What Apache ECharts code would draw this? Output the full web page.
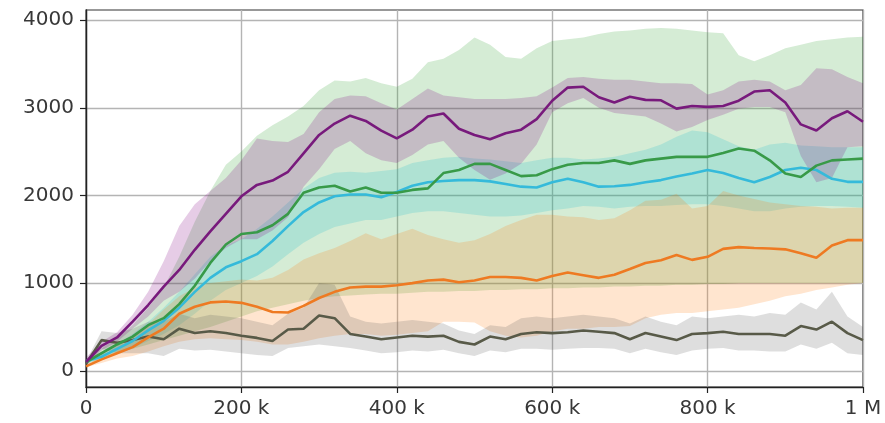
<!DOCTYPE html>
<html>
<head>
<meta charset="utf-8">
<script src="https://cdn.jsdelivr.net/npm/echarts@6/dist/echarts.min.js"></script>
<style>html,body{margin:0;padding:0;background:#fff}#c{width:885px;height:423px}</style>
</head>
<body>
<div id="c"></div>
<script>
// ---- data ----
var steps = [0,20000,40000,60000,80000,100000,120000,140000,160000,180000,200000,220000,240000,260000,280000,300000,320000,340000,360000,380000,400000,420000,440000,460000,480000,500000,520000,540000,560000,580000,600000,620000,640000,660000,680000,700000,720000,740000,760000,780000,800000,820000,840000,860000,880000,900000,920000,940000,960000,980000,1000000];

var purpleMean = [100,285,380,560,750,960,1150,1380,1590,1790,1990,2120,2170,2270,2480,2690,2820,2910,2850,2740,2650,2750,2900,2935,2760,2690,2640,2710,2750,2870,3080,3230,3240,3120,3060,3125,3090,3085,2990,3020,3010,3020,3080,3185,3200,3060,2810,2740,2880,2960,2840];
var purpleHigh = [150,330,440,640,900,1250,1650,1900,2050,2200,2400,2650,2620,2610,2700,2950,3100,3140,3130,3050,2980,3100,3220,3140,3120,3100,3100,3100,3110,3130,3230,3340,3350,3330,3320,3320,3300,3280,3280,3270,3150,3200,3300,3320,3300,3200,3260,3450,3440,3350,3280];
var purpleLow  = [60,230,330,480,620,800,900,1050,1250,1400,1500,1500,1600,1750,2100,2300,2530,2620,2480,2400,2370,2460,2580,2620,2430,2290,2180,2250,2360,2580,2950,3050,3110,3000,2940,2920,2900,2820,2730,2780,2860,2920,2990,3010,3010,2950,2450,2150,2200,2550,2560];

var greenMean = [100,200,300,390,520,600,760,970,1230,1440,1560,1580,1660,1790,2030,2090,2110,2045,2090,2030,2030,2063,2080,2255,2290,2360,2360,2290,2220,2230,2300,2350,2370,2370,2400,2360,2400,2420,2440,2440,2440,2485,2535,2510,2400,2250,2210,2340,2400,2410,2420];
var greenHigh = [130,250,380,520,720,950,1300,1700,2050,2350,2500,2680,2800,2900,3020,3200,3310,3300,3340,3280,3240,3330,3520,3560,3660,3800,3720,3580,3560,3680,3760,3780,3800,3840,3870,3880,3900,3910,3900,3880,3860,3850,3600,3530,3600,3680,3720,3760,3780,3800,3810];
var greenLow  = [70,140,200,250,300,350,400,450,500,560,620,680,720,760,800,830,850,860,870,880,880,890,900,900,910,910,920,920,930,930,940,940,950,950,960,960,970,970,980,980,990,990,1000,1000,1000,1000,1000,1000,1000,1000,1000];

var cyanMean = [110,160,250,340,460,570,720,900,1060,1180,1250,1330,1480,1650,1810,1920,1990,2010,2010,1980,2040,2110,2150,2165,2175,2175,2160,2130,2100,2090,2150,2190,2150,2100,2105,2120,2150,2175,2215,2250,2290,2255,2200,2150,2210,2290,2315,2290,2190,2155,2155];
var cyanHigh = [130,190,300,420,560,720,900,1100,1300,1430,1500,1620,1760,1920,2080,2200,2260,2270,2260,2280,2300,2370,2400,2430,2440,2420,2410,2390,2370,2400,2430,2430,2410,2420,2440,2480,2520,2580,2670,2740,2720,2640,2560,2520,2580,2600,2570,2560,2550,2550,2550];
var cyanLow  = [90,130,200,260,340,420,520,650,800,920,1000,1080,1190,1330,1460,1560,1640,1680,1720,1720,1760,1800,1820,1820,1800,1780,1760,1760,1770,1800,1830,1850,1880,1870,1850,1870,1880,1880,1890,1900,1900,1880,1850,1820,1820,1850,1870,1880,1880,1870,1860];

var orangeMean = [50,130,200,270,380,480,650,730,780,790,775,730,670,665,740,830,900,950,960,960,975,1000,1030,1040,1010,1030,1070,1070,1060,1030,1080,1120,1090,1060,1095,1160,1230,1260,1320,1265,1300,1390,1410,1400,1395,1385,1340,1290,1430,1490,1490];
var orangeHigh = [60,180,280,380,530,700,850,950,1000,1020,1040,1030,1060,1150,1270,1340,1400,1480,1570,1500,1560,1620,1550,1500,1460,1490,1560,1650,1720,1780,1780,1760,1750,1720,1740,1830,1940,1950,2020,1850,1880,2050,2000,1960,1920,1900,1880,1870,1850,1860,1860];
var orangeLow  = [40,90,140,170,220,280,330,360,370,360,350,330,300,300,330,370,400,420,420,400,410,430,450,560,560,550,450,400,380,400,450,480,480,500,500,510,600,640,660,660,680,700,720,760,800,850,880,920,950,980,1000];

var grayMean = [80,350,320,350,390,360,480,430,450,430,400,375,340,470,480,630,600,420,390,360,380,400,390,400,330,300,390,360,420,440,430,440,460,445,430,360,430,390,350,420,430,445,420,420,420,400,510,470,560,430,350];
var grayHigh = [110,450,430,480,560,560,650,600,640,620,600,560,520,650,720,1000,980,620,560,540,560,580,560,540,460,420,520,500,600,620,600,620,640,620,600,540,620,560,520,620,600,620,640,620,660,640,780,700,900,620,500];
var grayLow  = [50,250,200,200,200,170,250,230,240,220,200,180,170,260,280,300,280,260,230,200,210,230,220,240,200,170,230,210,250,250,240,250,260,260,250,200,250,210,180,230,250,260,230,230,220,220,300,250,320,200,180];

var xTickValues = [0,200000,400000,600000,800000,1000000];
var xTickLabels = ['0','200 k','400 k','600 k','800 k','1 M'];
var yTickValues = [0,1000,2000,3000,4000];
var yTickLabels = ['0','1000','2000','3000','4000'];

// ---- chart ----
function pairs(ys){ return steps.map(function(x,i){ return [x, ys[i]]; }); }
function band(name, lo, hi, color, z){
  return {
    type:'custom', name:name, silent:true, z:z, clip:true,
    data: steps.map(function(x,i){ return [x, lo[i], hi[i]]; }),
    encode:{x:0, y:[1,2]},
    renderItem:function(params, api){
      if (params.dataIndex !== 0) return;
      var pts = [];
      for (var i=0;i<steps.length;i++) pts.push(api.coord([steps[i], hi[i]]));
      for (var j=steps.length-1;j>=0;j--) pts.push(api.coord([steps[j], lo[j]]));
      return {type:'polygon', shape:{points:pts}, style:{fill:color}};
    }
  };
}
function line(name, ys, color, z){
  return {type:'line', name:name, data:pairs(ys), showSymbol:false, symbol:'none', z:z, silent:true,
    lineStyle:{color:color, width:2.6}};
}

var chart = echarts.init(document.getElementById('c'), null, {renderer:'canvas'});
chart.setOption({
  animation:false,
  backgroundColor:'#ffffff',
  grid:{left:86, right:22, top:10, bottom:36, show:true, borderColor:'#333', borderWidth:1.2, backgroundColor:'transparent'},
  xAxis:{
    type:'value', min:0, max:1000000, interval:200000,
    axisLine:{show:true, onZero:false, lineStyle:{color:'#222', width:1.4}},
    axisTick:{show:true, inside:false, length:6, lineStyle:{color:'#222', width:1.2}},
    axisLabel:{margin:12, fontFamily:'DejaVu Sans', fontSize:20, color:'#383838', showMinLabel:true, showMaxLabel:true,
      formatter:function(v){ var k = xTickValues.indexOf(v); return k>=0 ? xTickLabels[k] : ''; }},
    splitLine:{show:true, lineStyle:{color:'#b4b4b4', width:1.4}}
  },
  yAxis:{
    type:'value', min:-185, max:4115,
    axisLine:{show:true, onZero:false, lineStyle:{color:'#222', width:1.4}},
    axisTick:{show:true, inside:false, length:6, lineStyle:{color:'#222', width:1.2}, customValues:yTickValues},
    axisLabel:{margin:12, fontFamily:'DejaVu Sans', fontSize:20, color:'#383838', customValues:yTickValues,
      formatter:function(v){ var k = yTickValues.indexOf(v); return k>=0 ? yTickLabels[k] : ''; }},
    splitLine:{show:true, lineStyle:{color:'#b4b4b4', width:1.4}}
  },
  series:[
    band('green band', greenLow, greenHigh, 'rgba(44,160,44,0.2)', 1),
    band('cyan band', cyanLow, cyanHigh, 'rgba(23,190,207,0.2)', 1),
    band('orange band', orangeLow, orangeHigh, 'rgba(255,127,14,0.2)', 1),
    band('gray band', grayLow, grayHigh, 'rgba(90,90,90,0.2)', 1),
    band('purple band', purpleLow, purpleHigh, 'rgba(128,0,128,0.2)', 1),
    line('gray', grayMean, '#585a48', 3),
    line('orange', orangeMean, '#ee7a22', 3),
    line('cyan', cyanMean, '#35bada', 3),
    line('green', greenMean, '#389a48', 3),
    line('purple', purpleMean, '#781a7c', 3)
  ]
});
</script>
</body>
</html>
